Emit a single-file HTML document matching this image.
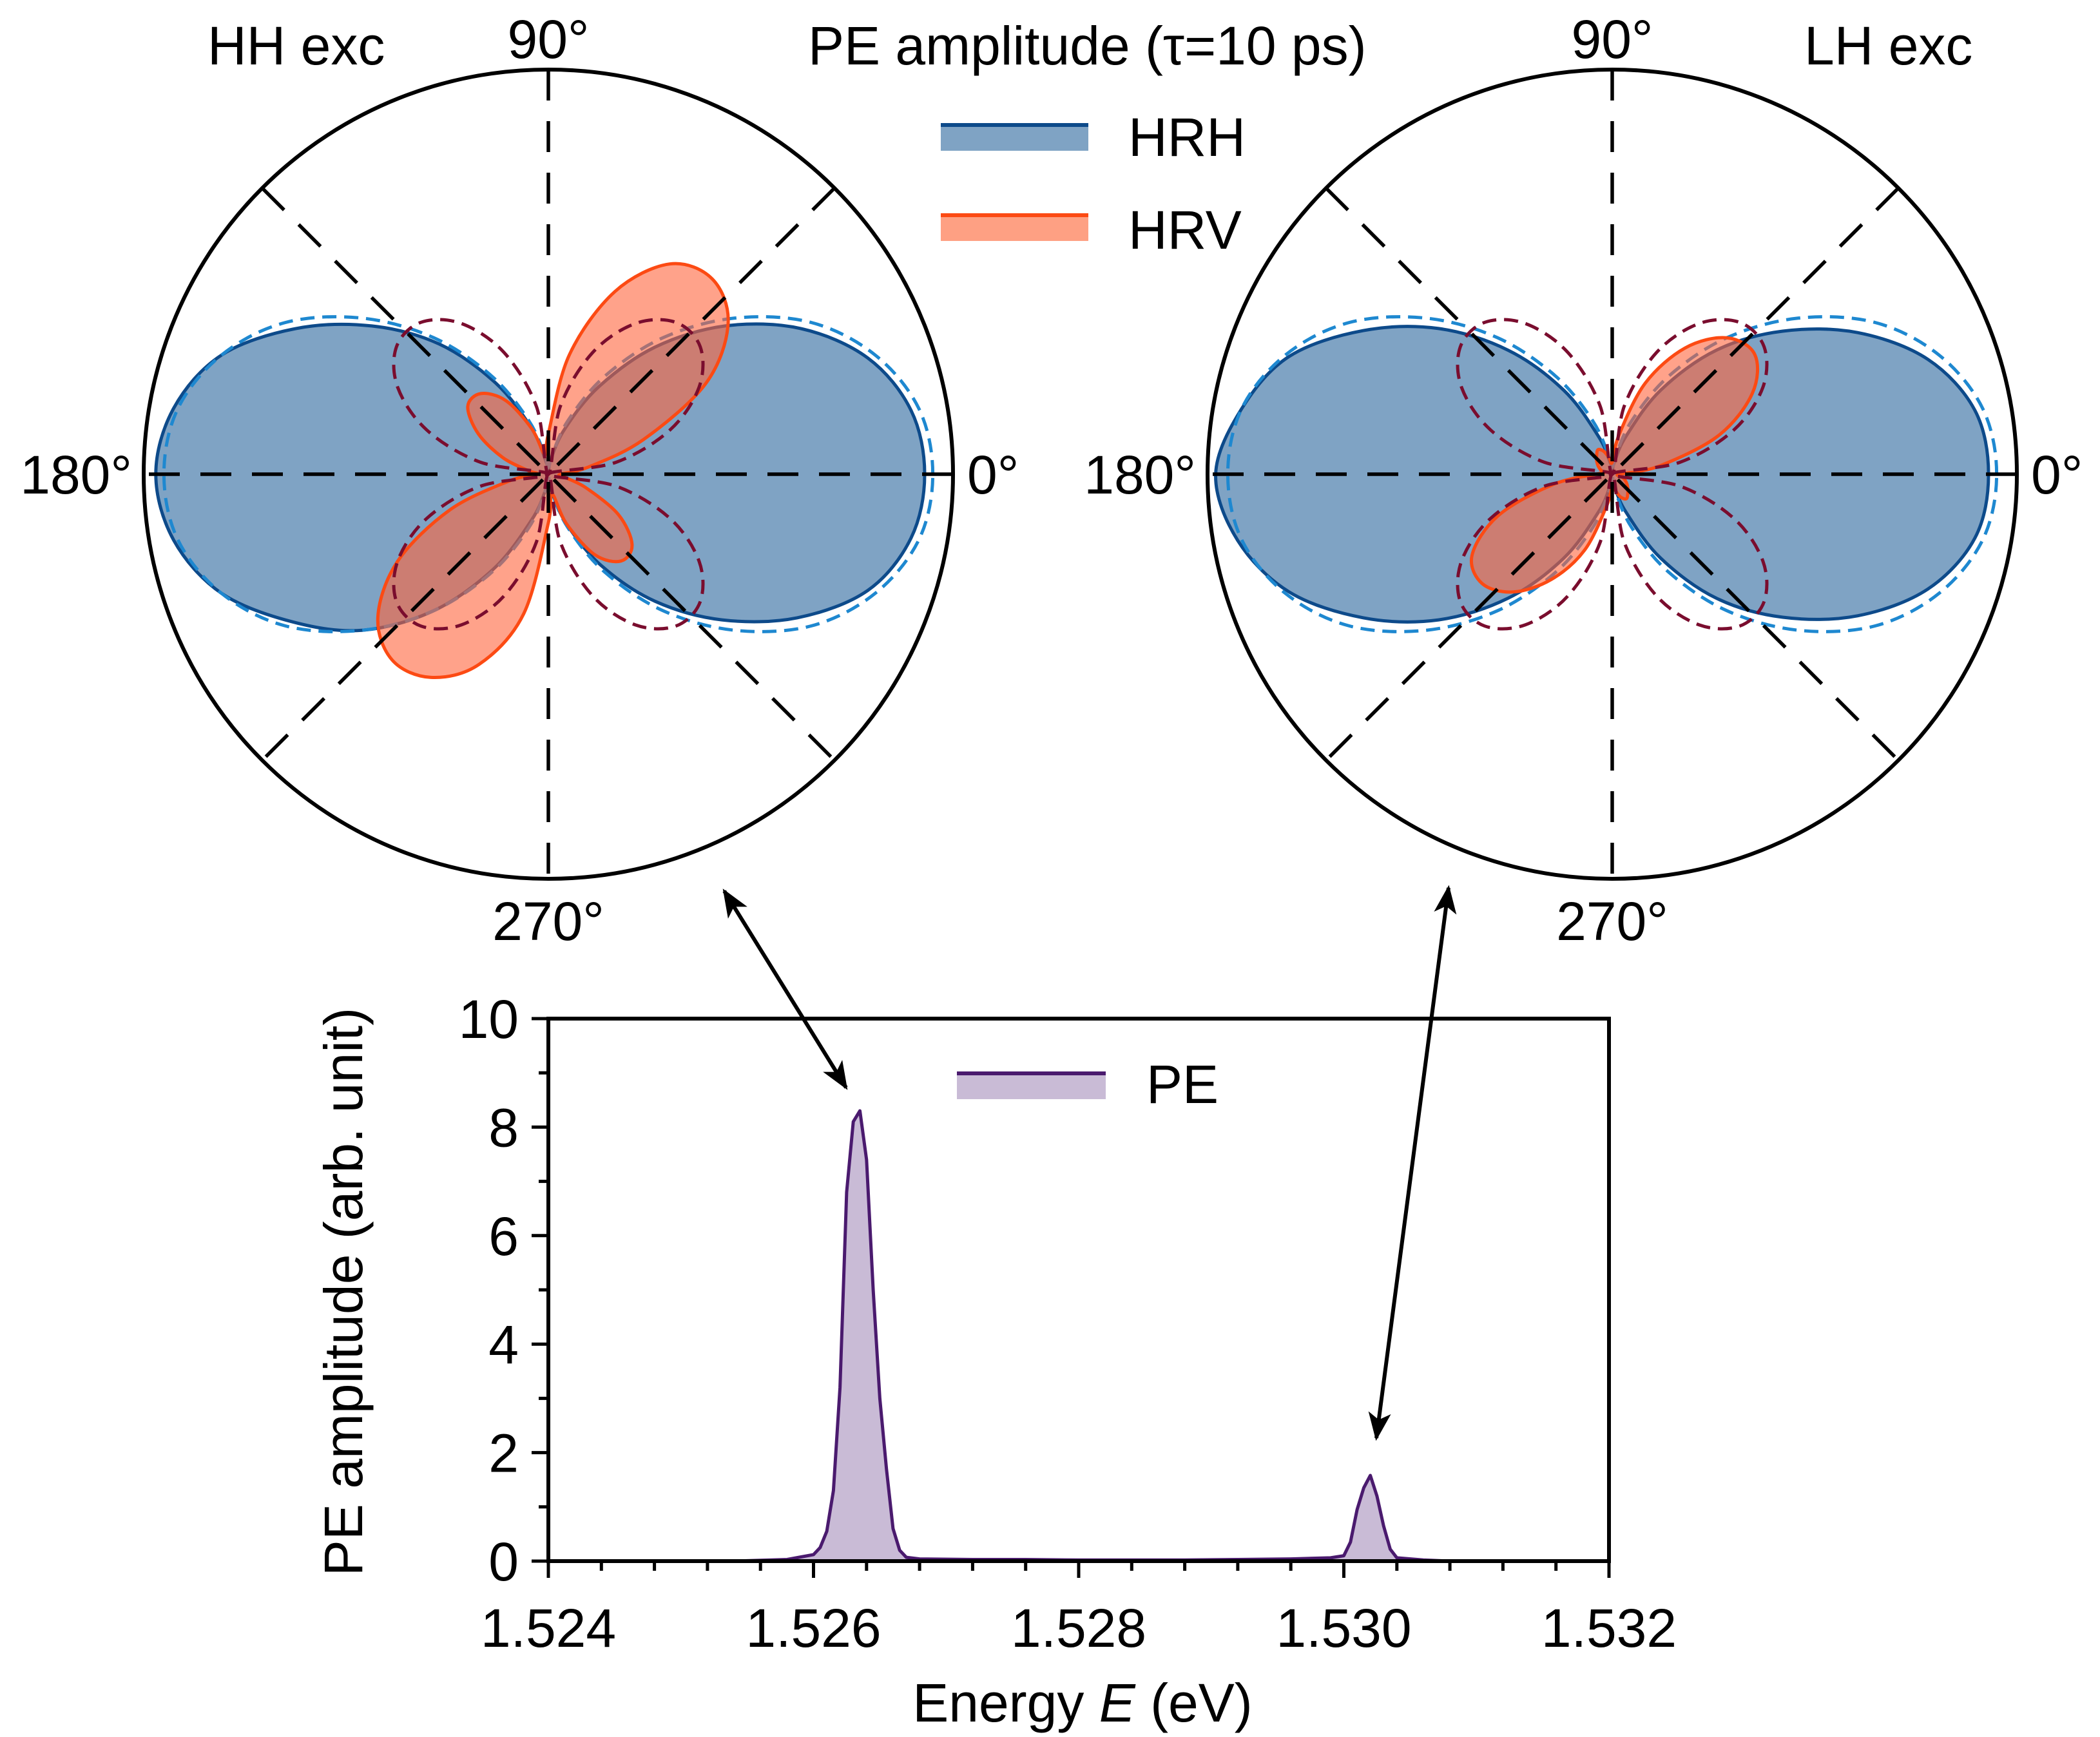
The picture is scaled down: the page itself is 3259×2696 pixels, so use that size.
<!DOCTYPE html>
<html><head><meta charset="utf-8"><style>
html,body{margin:0;padding:0;background:#fff}
svg{display:block}
text{font-family:"Liberation Sans",sans-serif;fill:#000}
</style></head><body>
<svg id="fig" width="3259" height="2696" viewBox="0 0 3259 2696" xmlns="http://www.w3.org/2000/svg">
<defs>
<marker id="ah" viewBox="0 0 20 20" refX="18" refY="10" markerWidth="44" markerHeight="44" orient="auto-start-reverse" markerUnits="userSpaceOnUse"><path d="M0,2 L20,10 L0,18 L5,10 Z" fill="#000"/></marker>
</defs>
<g id="polars"></g>
<g id="spec"></g>
<text x="322" y="100" font-size="84">HH exc</text>
<text x="2800" y="100" font-size="84">LH exc</text>
<text x="1254" y="100" font-size="84">PE amplitude (τ=10 ps)</text>
<g>
<rect x="1460" y="194" width="229" height="40" fill="#7fa3c4"/>
<line x1="1460" y1="194" x2="1689" y2="194" stroke="#0d4a8a" stroke-width="6"/>
<text x="1751" y="242" font-size="84">HRH</text>
<rect x="1460" y="334" width="229" height="40" fill="#fea083"/>
<line x1="1460" y1="334" x2="1689" y2="334" stroke="#fc4a13" stroke-width="6"/>
<text x="1751" y="386" font-size="84">HRV</text>
</g>
<line x1="1124" y1="1383" x2="1313" y2="1688" stroke="#000" stroke-width="6" marker-start="url(#ah)" marker-end="url(#ah)"/>
<line x1="2248" y1="1378" x2="2136" y2="2232" stroke="#000" stroke-width="6" marker-start="url(#ah)" marker-end="url(#ah)"/>
</svg>
<script>
// ---------- polar data ----------
const angles=[0,10,20,30,40,50,60,70,80,90,100,110,120,130,140,150,160,170,180,190,200,210,220,230,240,250,260,270,280,290,300,310,320,330,340,350];
const hhHRH=[0.93,0.91,0.84,0.72,0.57,0.41,0.25,0.12,0.04,0.01,0.03,0.12,0.26,0.42,0.57,0.72,0.86,0.94,0.97,0.94,0.86,0.73,0.60,0.44,0.27,0.12,0.04,0.01,0.04,0.13,0.26,0.41,0.56,0.71,0.84,0.91];
const hhHRHfit=[0.95,0.93,0.86,0.75,0.60,0.44,0.28,0.14,0.04,0.00,0.04,0.14,0.28,0.44,0.60,0.75,0.86,0.93,0.95,0.93,0.86,0.75,0.60,0.44,0.28,0.14,0.04,0.00,0.04,0.14,0.28,0.44,0.60,0.75,0.86,0.93];
const hhHRV=[0.03,0.10,0.25,0.45,0.58,0.63,0.60,0.48,0.30,0.10,0.05,0.12,0.21,0.26,0.26,0.20,0.12,0.05,0.03,0.10,0.26,0.43,0.55,0.60,0.58,0.50,0.35,0.12,0.05,0.13,0.23,0.28,0.27,0.20,0.10,0.04];
const hhHRVfit=[0.00,0.17,0.32,0.43,0.49,0.49,0.43,0.32,0.17,0.00,0.17,0.32,0.43,0.49,0.49,0.43,0.32,0.17,0.00,0.17,0.32,0.43,0.49,0.49,0.43,0.32,0.17,0.00,0.17,0.32,0.43,0.49,0.49,0.43,0.32,0.17];
const lhHRH=[0.93,0.91,0.83,0.70,0.55,0.40,0.24,0.10,0.03,0.01,0.03,0.10,0.24,0.40,0.56,0.71,0.85,0.93,0.98,0.94,0.85,0.71,0.56,0.40,0.24,0.10,0.03,0.01,0.03,0.10,0.24,0.40,0.55,0.70,0.83,0.91];
const lhHRHfit=[0.95,0.93,0.86,0.75,0.60,0.44,0.28,0.14,0.04,0.00,0.04,0.14,0.28,0.44,0.60,0.75,0.86,0.93,0.95,0.93,0.86,0.75,0.60,0.44,0.28,0.14,0.04,0.00,0.04,0.14,0.28,0.44,0.60,0.75,0.86,0.93];
const lhHRV=[0.02,0.12,0.28,0.40,0.46,0.44,0.36,0.24,0.10,0.03,0.04,0.06,0.07,0.06,0.05,0.04,0.03,0.02,0.04,0.15,0.30,0.40,0.42,0.38,0.30,0.20,0.08,0.03,0.04,0.06,0.07,0.06,0.05,0.04,0.03,0.02];
const lhHRVfit=[0.00,0.17,0.32,0.43,0.49,0.49,0.43,0.32,0.17,0.00,0.17,0.32,0.43,0.49,0.49,0.43,0.32,0.17,0.00,0.17,0.32,0.43,0.49,0.49,0.43,0.32,0.17,0.00,0.17,0.32,0.43,0.49,0.49,0.43,0.32,0.17];
const polarTickLabels=["0°","90°","180°","270°"];
// ---------- spectrum data ----------
const energy=[1.5254,1.5258,1.5260,1.52605,1.5261,1.52615,1.5262,1.52625,1.5263,1.52635,1.5264,1.52645,1.5265,1.52655,1.5266,1.52665,1.5267,1.5268,1.5272,1.5276,1.5280,1.5284,1.5288,1.5292,1.5296,1.5299,1.5300,1.53005,1.5301,1.53015,1.5302,1.53025,1.5303,1.53035,1.5304,1.5306,1.5308];
const amplitude=[0.0,0.03,0.12,0.25,0.55,1.3,3.2,6.8,8.1,8.3,7.4,5.0,3.0,1.7,0.6,0.2,0.07,0.04,0.03,0.03,0.02,0.02,0.02,0.03,0.04,0.06,0.1,0.35,0.95,1.35,1.58,1.2,0.65,0.22,0.06,0.02,0.0];
const xTicks=[1.524,1.526,1.528,1.530,1.532];
const xTickLabels=["1.524","1.526","1.528","1.530","1.532"];
const yTicks=[0,2,4,6,8,10];
const yTickLabels=["0","2","4","6","8","10"];

const NS="http://www.w3.org/2000/svg";
function mk(tag,attrs,parent){const e=document.createElementNS(NS,tag);for(const k in attrs)e.setAttribute(k,attrs[k]);parent.appendChild(e);return e;}

function smoothClosed(pts){
  const n=pts.length;let d="M"+pts[0][0].toFixed(1)+","+pts[0][1].toFixed(1);
  for(let i=0;i<n;i++){
    const p0=pts[(i-1+n)%n],p1=pts[i],p2=pts[(i+1)%n],p3=pts[(i+2)%n];
    const c1=[p1[0]+(p2[0]-p0[0])/6,p1[1]+(p2[1]-p0[1])/6];
    const c2=[p2[0]-(p3[0]-p1[0])/6,p2[1]-(p3[1]-p1[1])/6];
    d+="C"+c1[0].toFixed(1)+","+c1[1].toFixed(1)+" "+c2[0].toFixed(1)+","+c2[1].toFixed(1)+" "+p2[0].toFixed(1)+","+p2[1].toFixed(1);
  }
  return d+"Z";
}

const polarsG=document.getElementById('polars');
function drawPolar(cx,cy,R,name,hrh,hrhFit,hrv,hrvFit){
  const g=mk('g',{},polarsG);
  
  
  const pt=(a,r)=>[cx+r*R*Math.cos(a*Math.PI/180),cy-r*R*Math.sin(a*Math.PI/180)];
  const mkPts=arr=>angles.map((a,i)=>pt(a,arr[i]));
  const b=mk('path',{d:smoothClosed(mkPts(hrh)),fill:'#7fa3c4',stroke:'#0d4a8a','stroke-width':5,'stroke-linejoin':'round'},g);
  
  
  const bf=mk('path',{d:smoothClosed(mkPts(hrhFit)),fill:'none',stroke:'#1e88d0','stroke-width':5,'stroke-dasharray':'22 12'},g);
  
  
  const o=mk('path',{d:smoothClosed(mkPts(hrv)),fill:'rgb(255,100,60)','fill-opacity':0.6,stroke:'#fc4a13','stroke-width':5,'stroke-linejoin':'round'},g);
  
  
  const of=mk('path',{d:smoothClosed(mkPts(hrvFit)),fill:'none',stroke:'#7a0d2e','stroke-width':5,'stroke-dasharray':'22 12'},g);
  
  
  [0,45,90,135].forEach(a=>{
    const p=pt(a,1),q=pt(a+180,1);
    const l=mk('line',{x1:p[0],y1:p[1],x2:q[0],y2:q[1],stroke:'#000','stroke-width':5.5,'stroke-dasharray':'48 32'},g);
    
    
  });
  const c=mk('circle',{cx:cx,cy:cy,r:R,fill:'none',stroke:'#000','stroke-width':6},g);
  
  
  const labs=[[cx+R+22,cy+30,'start'],[cx,cy-R-18,'middle'],[cx-R-18,cy+30,'end'],[cx,cy+R+95,'middle']];
  labs.forEach((L,i)=>{
    const t=mk('text',{x:L[0],y:L[1],'font-size':84,'text-anchor':L[2]},g);
    t.textContent=polarTickLabels[i];
    
    
  });
}
drawPolar(851,736,628,'hh-polar-plot',hhHRH,hhHRHfit,hhHRV,hhHRVfit);
drawPolar(2502,736,628,'lh-polar-plot',lhHRH,lhHRHfit,lhHRV,lhHRVfit);

// ---------- spectrum ----------
const sg=document.getElementById('spec');
const X0=851,X1=2497,Y0=2423,Y1=1581;
const xs=v=>X0+(v-1.524)/(0.008)*(X1-X0);
const ys=v=>Y0-v/10*(Y0-Y1);
let d="M"+xs(energy[0])+","+ys(0);
energy.forEach((e,i)=>{d+="L"+xs(e).toFixed(1)+","+ys(amplitude[i]).toFixed(1);});
d+="L"+xs(energy[energy.length-1])+","+ys(0)+"Z";
const area=mk('path',{d:d,fill:'#c9bbd6',stroke:'none'},sg);


let dl="";energy.forEach((e,i)=>{dl+=(i?"L":"M")+xs(e).toFixed(1)+","+ys(amplitude[i]).toFixed(1);});
const line=mk('path',{d:dl,fill:'none',stroke:'#4a1a6e','stroke-width':5,'stroke-linejoin':'round'},sg);


const fr=mk('rect',{x:X0,y:Y1,width:X1-X0,height:Y0-Y1,fill:'none',stroke:'#000','stroke-width':6},sg);


for(let k=0;k<=20;k++){
  const v=1.524+k*0.0004,x=xs(v),major=(k%5===0);
  const t=mk('line',{x1:x,y1:Y0,x2:x,y2:Y0+(major?26:15),stroke:'#000','stroke-width':5},sg);
  
  
}
xTicks.forEach((v,i)=>{
  const t=mk('text',{x:xs(v),y:2556,'font-size':84,'text-anchor':'middle'},sg);
  t.textContent=xTickLabels[i];
  
  
});
for(let k=0;k<=10;k++){
  const y=ys(k),major=(k%2===0);
  const t=mk('line',{x1:X0,y1:y,x2:X0-(major?26:15),y2:y,stroke:'#000','stroke-width':5},sg);
  
  
}
yTicks.forEach((v,i)=>{
  const t=mk('text',{x:805,y:ys(v)+30,'font-size':84,'text-anchor':'end'},sg);
  t.textContent=yTickLabels[i];
  
  
});
const xt=mk('text',{x:1680,y:2672,'font-size':84,'text-anchor':'middle'},sg);
xt.innerHTML='Energy <tspan font-style="italic">E</tspan> (eV)';


const yt=mk('text',{x:0,y:0,'font-size':84,'text-anchor':'middle',transform:'translate(562,2005) rotate(-90)'},sg);
yt.textContent='PE amplitude (arb. unit)';


const ls=mk('rect',{x:1485,y:1666,width:231,height:40,fill:'#c9bbd6'},sg);


const ll=mk('line',{x1:1485,y1:1666,x2:1716,y2:1666,stroke:'#4a1a6e','stroke-width':6},sg);


const lt=mk('text',{x:1779,y:1712,'font-size':84},sg);
lt.textContent='PE';


</script>
</body></html>
